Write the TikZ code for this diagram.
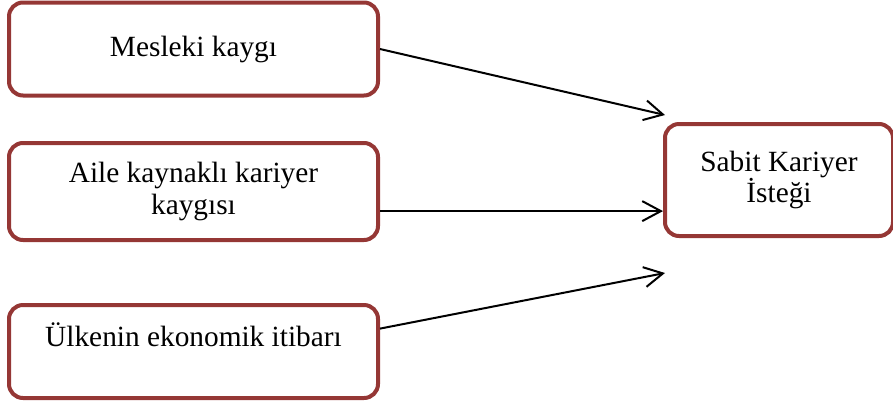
\documentclass[tikz,border=0pt]{standalone}
\usepackage{fontspec}
\setmainfont{Liberation Serif}
\usetikzlibrary{arrows.meta}
\definecolor{boxred}{RGB}{149,55,53}

\begin{document}
\begin{tikzpicture}[x=0.75pt,y=-0.75pt,>={Straight Barb[length=14pt,width=15pt]},
        line width=1.5pt,
        main node/.style={rectangle,rounded corners=10.5pt,draw=boxred,line width=3pt,
          minimum width=276.75pt,minimum height=69.75pt,align=center,
          font=\fontsize{22}{24}\selectfont}]
        \useasboundingbox (0,0) rectangle (893,405);
        \node[main node] (1) at (193.5,49) {Mesleki kaygı};
        \node[main node,minimum height=72.75pt] (2) at (193.5,191.5) {Aile kaynaklı kariyer\\kaygısı};
        \node[main node,text depth=26pt] (3) at (193.5,351.5) {Ülkenin ekonomik itibarı};
        \node[main node,minimum width=171pt,minimum height=84pt,
          font=\fontsize{22}{23}\selectfont] (4) at (779,180) {Sabit Kariyer\\İsteği};
        \coordinate (5) at (665,115);
        \coordinate (6) at (665,273);
        \path[->]
        (1.east) edge (5)
        (2.354.3) edge (2.354.3 -| 4.west)
        (3.7.4) edge (6)
        ;
        \end{tikzpicture}
\end{document}
